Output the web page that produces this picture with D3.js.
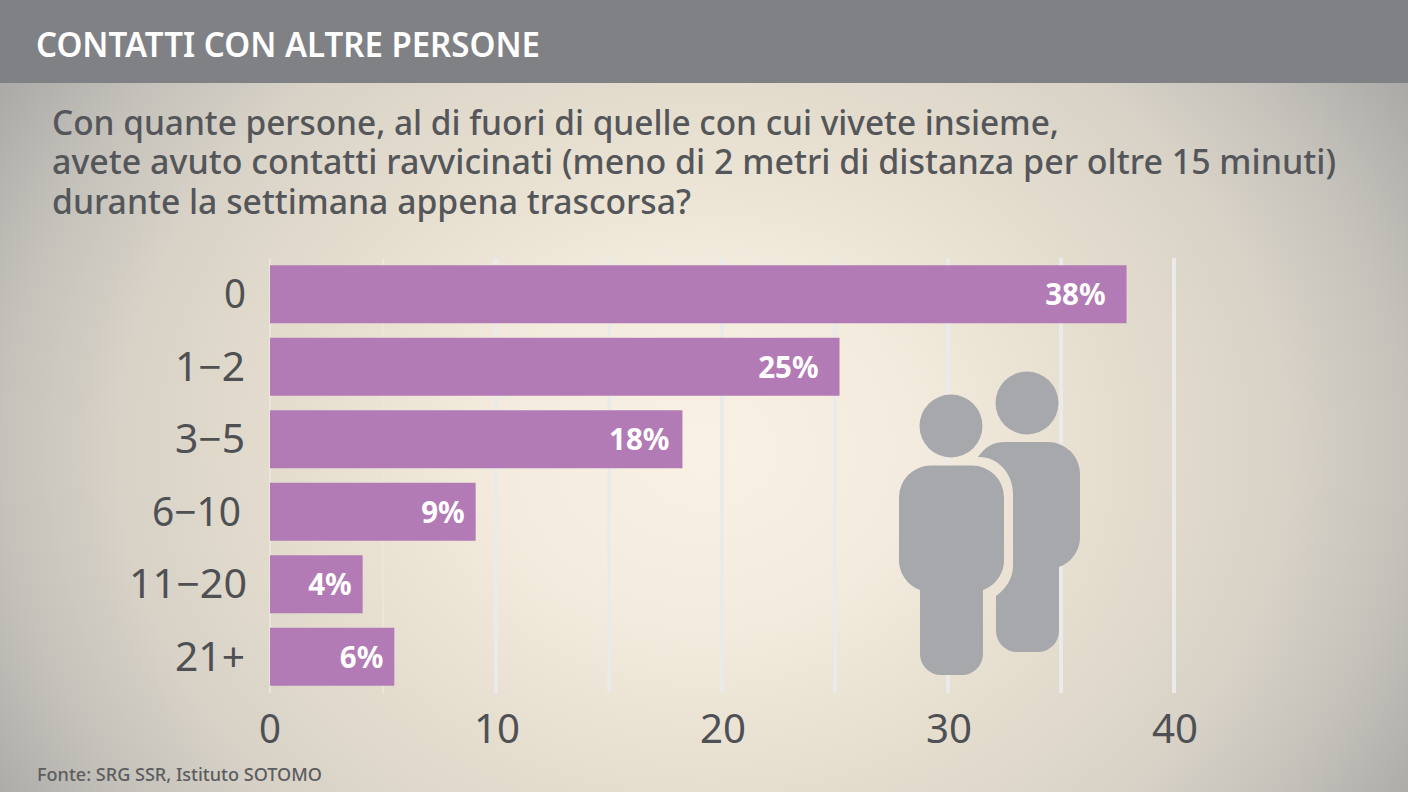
<!DOCTYPE html>
<html><head><meta charset="utf-8">
<script src="https://cdn.jsdelivr.net/npm/d3@7/dist/d3.min.js"></script>
<style>html,body{margin:0;padding:0;background:#fff;overflow:hidden}svg{display:block}text{font-family:"Noto Sans",sans-serif}</style>
</head><body><svg id="c" width="1408" height="792"></svg>
<script>
const titleText="CONTATTI CON ALTRE PERSONE";
const questionLines=["Con quante persone, al di fuori di quelle con cui vivete insieme,","avete avuto contatti ravvicinati (meno di 2 metri di distanza per oltre 15 minuti)","durante la settimana appena trascorsa?"];
const categories=["0","1−2","3−5","6−10","11−20","21+"];
const values=[37.9,25.2,18.25,9.1,4.1,5.5];
const valueLabels=["38%","25%","18%","9%","4%","6%"];
const axisTicks=[0,10,20,30,40];
const gridTicks=[0,5,10,15,20,25,30,35,40];
const sourceText="Fonte: SRG SSR, Istituto SOTOMO";

// layout constants (fitted text extents)
const qw=[1007,1284,639];
const catW=[22,70,70,89,118,70];
const catEnd=[246,245,245,241,247,245];
const labelInset=v=>v>25?21:v>10?13:11;

const svg=d3.select("#c");
const defs=svg.append("defs");
const g=defs.append("radialGradient").attr("id","bg").attr("gradientUnits","userSpaceOnUse")
 .attr("cx",0).attr("cy",0).attr("r",1).attr("gradientTransform","translate(704 450) scale(836 700)");
[[0,"#f9f2e4"],[.25,"#f3ecde"],[.49,"#e5decf"],[.7,"#d8d2c7"],[.84,"#c5c2bb"],[1,"#a9a8a5"]].forEach(d=>g.append("stop").attr("offset",d[0]).attr("stop-color",d[1]));
svg.append("rect").attr("width",1408).attr("height",792).attr("fill","url(#bg)");
svg.append("rect").attr("width",1408).attr("height",83).attr("fill","#808185");
svg.append("text").attr("x",36).attr("y",57).attr("fill","#fff").attr("font-size",35).attr("font-weight",600).attr("textLength",504).attr("lengthAdjust","spacingAndGlyphs").text(titleText);
const q=svg.append("text").attr("fill","#54565a").attr("font-size",33.5).attr("font-weight",500);
q.selectAll("tspan").data(questionLines).join("tspan").attr("x",52).attr("y",(d,i)=>135+i*39.3).attr("textLength",(d,i)=>qw[i]).attr("lengthAdjust","spacingAndGlyphs").text(d=>d);

const x=d3.scaleLinear().domain([0,40]).range([270,1174]);
const y=d3.scaleBand().domain(categories).range([258,693]).paddingInner(.2).paddingOuter(.1);
svg.selectAll(".grid").data(gridTicks).join("line").attr("class","grid").attr("x1",d=>x(d)).attr("x2",d=>x(d)).attr("y1",258).attr("y2",693).attr("stroke",d=>d<10?"#ebe6db":"#eaeaea").attr("stroke-width",d=>d<10?2:d%10===0||d===35?4:3.5);
svg.selectAll(".bar").data(values).join("rect").attr("class","bar").attr("x",x(0)).attr("y",(d,i)=>y(categories[i])).attr("width",d=>x(d)-x(0)).attr("height",y.bandwidth()).attr("fill","#b27bb5");
svg.selectAll(".vl").data(values).join("text").attr("class","vl").attr("x",d=>x(d)-labelInset(d)).attr("y",(d,i)=>y(categories[i])+y.bandwidth()/2+11).attr("text-anchor","end").attr("fill","#fff").attr("font-size",29.5).attr("font-weight",700).text((d,i)=>valueLabels[i]);
svg.selectAll(".cat").data(categories).join("text").attr("class","cat").attr("x",(d,i)=>catEnd[i]).attr("y",d=>y(d)+y.bandwidth()/2+14).attr("text-anchor","end").attr("fill","#4e5054").attr("font-size",39.5).attr("font-weight",400).attr("textLength",(d,i)=>catW[i]).attr("lengthAdjust","spacingAndGlyphs").text(d=>d);
svg.selectAll(".tick").data(axisTicks).join("text").attr("class","tick").attr("x",d=>x(d)+(d==0?0:1)).attr("y",743).attr("text-anchor","middle").attr("fill","#4e5054").attr("font-size",39.5).attr("font-weight",400).attr("textLength",d=>d==0?22:46).attr("lengthAdjust","spacingAndGlyphs").text(d=>d);
svg.append("text").attr("x",37).attr("y",781).attr("fill","#5c5d60").attr("font-size",17.5).attr("font-weight",500).attr("textLength",285).attr("lengthAdjust","spacingAndGlyphs").text(sourceText);

// people icon
const ic=svg.append("g").attr("fill","#a7a8ab");
ic.append("circle").attr("cx",1027).attr("cy",403).attr("r",31.5);
ic.append("path").attr("d","M978 457 C985 447 993 442 1005 442 L1048 442 A32 32 0 0 1 1080 474 L1080 535 A32 32 0 0 1 1059 567 L1059 631 A21 21 0 0 1 1038 652 L1017 652 A21 21 0 0 1 996 631 L996 596 C1006 589 1013 578 1013 566 L1013 494 C1013 472 996 456 978 457 Z");
ic.append("circle").attr("cx",951).attr("cy",426).attr("r",31.5);
ic.append("path").attr("d","M931 465.5 L972 465.5 A32 32 0 0 1 1004 497.5 L1004 558 A32 32 0 0 1 983 590 L983 654 A21 21 0 0 1 962 675 L941 675 A21 21 0 0 1 920 654 L920 590 A32 32 0 0 1 899 558 L899 497.5 A32 32 0 0 1 931 465.5 Z");
</script></body></html>
